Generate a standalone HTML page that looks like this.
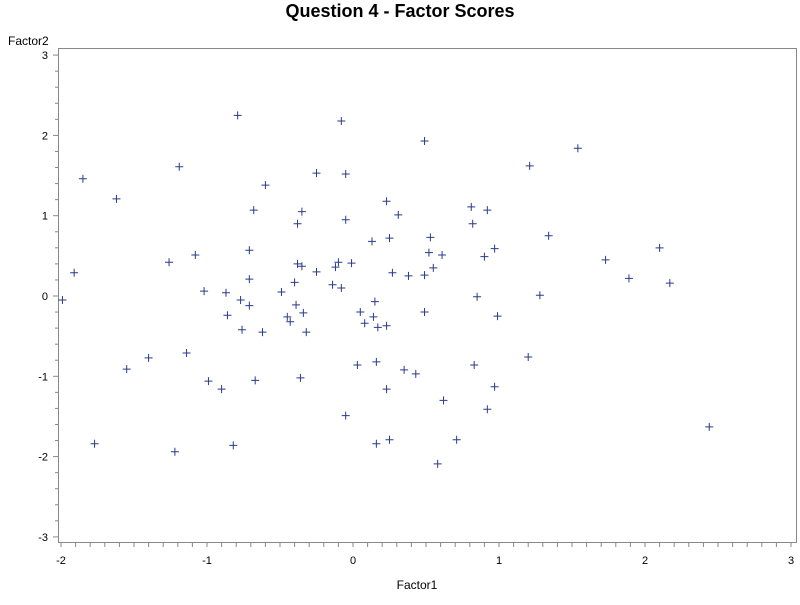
<!DOCTYPE html>
<html><head><meta charset="utf-8"><style>
body{margin:0;background:#fff;width:800px;height:600px;overflow:hidden}
text{font-family:"Liberation Sans",Arial,sans-serif}
</style></head><body>
<svg id="chart" width="800" height="600" xmlns="http://www.w3.org/2000/svg">
<text x="400" y="17" text-anchor="middle" font-size="18" font-weight="bold">Question 4 - Factor Scores</text>
<text x="8" y="45" font-size="12">Factor2</text>
<text x="417" y="589" text-anchor="middle" font-size="12">Factor1</text>
<rect x="58.5" y="48.5" width="738" height="494" fill="none" stroke="#888"/>
<g id="axes"></g><g id="pts"></g>
</svg>
<script>
const xTicks=[-2,-1,0,1,2,3];
const yTicks=[-3,-2,-1,0,1,2,3];
const factor1=[-1.99,-1.91,-1.85,-1.77,-1.62,-1.55,-1.40,-1.26,-1.22,-1.19,-1.14,-1.08,-1.02,-0.99,-0.90,-0.87,-0.86,-0.82,-0.79,-0.77,-0.76,-0.71,-0.71,-0.71,-0.68,-0.67,-0.62,-0.60,-0.49,-0.45,-0.43,-0.40,-0.39,-0.38,-0.38,-0.36,-0.35,-0.35,-0.34,-0.32,-0.25,-0.25,-0.14,-0.12,-0.10,-0.08,-0.08,-0.05,-0.05,-0.05,-0.01,0.03,0.05,0.08,0.13,0.14,0.15,0.16,0.16,0.17,0.23,0.23,0.23,0.25,0.25,0.27,0.31,0.35,0.38,0.43,0.49,0.49,0.49,0.52,0.53,0.55,0.58,0.61,0.62,0.71,0.81,0.82,0.83,0.85,0.90,0.92,0.92,0.97,0.97,0.99,1.20,1.21,1.28,1.34,1.54,1.73,1.89,2.10,2.17,2.44];
const factor2=[-0.05,0.29,1.46,-1.84,1.21,-0.91,-0.77,0.42,-1.94,1.61,-0.71,0.51,0.06,-1.06,-1.16,0.04,-0.24,-1.86,2.25,-0.05,-0.42,0.21,0.57,-0.12,1.07,-1.05,-0.45,1.38,0.05,-0.26,-0.32,0.17,-0.11,0.90,0.40,-1.02,1.05,0.37,-0.21,-0.45,1.53,0.30,0.14,0.36,0.42,0.10,2.18,-1.49,0.95,1.52,0.41,-0.86,-0.20,-0.34,0.68,-0.26,-0.07,-1.84,-0.82,-0.39,1.18,-1.16,-0.37,-1.79,0.72,0.29,1.01,-0.92,0.25,-0.97,1.93,0.26,-0.20,0.54,0.73,0.35,-2.09,0.51,-1.30,-1.79,1.11,0.90,-0.86,-0.01,0.49,1.07,-1.41,0.59,-1.13,-0.25,-0.76,1.62,0.01,0.75,1.84,0.45,0.22,0.60,0.16,-1.63];
const NS='http://www.w3.org/2000/svg';
const xs=v=>353+v*146;
const ys=v=>296-v*80.3;
const ax=document.getElementById('axes'),pg=document.getElementById('pts');
function mk(t,a,p){const e=document.createElementNS(NS,t);for(const k in a)e.setAttribute(k,a[k]);p.appendChild(e);return e;}
xTicks.forEach(t=>{
  const l=mk('line',{x1:xs(t),x2:xs(t),y1:543,y2:547,stroke:'#888'},ax);
  
  
  const tx=mk('text',{x:xs(t),y:564,'font-size':11,'text-anchor':'middle'},ax);tx.textContent=t;
  
  
  if(t<3){for(let i=1;i<10;i++){const m=mk('line',{x1:xs(t+i/10),x2:xs(t+i/10),y1:543,y2:547,stroke:'#888'},ax);
    
    }}
});
yTicks.forEach(t=>{
  const l=mk('line',{x1:53,x2:58,y1:ys(t),y2:ys(t),stroke:'#888'},ax);
  
  
  const tx=mk('text',{x:48,y:ys(t)+4,'font-size':11,'text-anchor':'end'},ax);tx.textContent=t;
  
  
  if(t<3){for(let i=1;i<5;i++){const m=mk('line',{x1:55,x2:58,y1:ys(t+i/5),y2:ys(t+i/5),stroke:'#888'},ax);
    
    }}
});
factor1.forEach((v,i)=>{
  const x=xs(v),y=ys(factor2[i]);
  const p=mk('path',{d:`M${x-4} ${y}H${x+4}M${x} ${y-4}V${y+4}`,stroke:'#2a3a8c','stroke-width':1,fill:'none'},pg);
  
  
});
</script>
</body></html>
